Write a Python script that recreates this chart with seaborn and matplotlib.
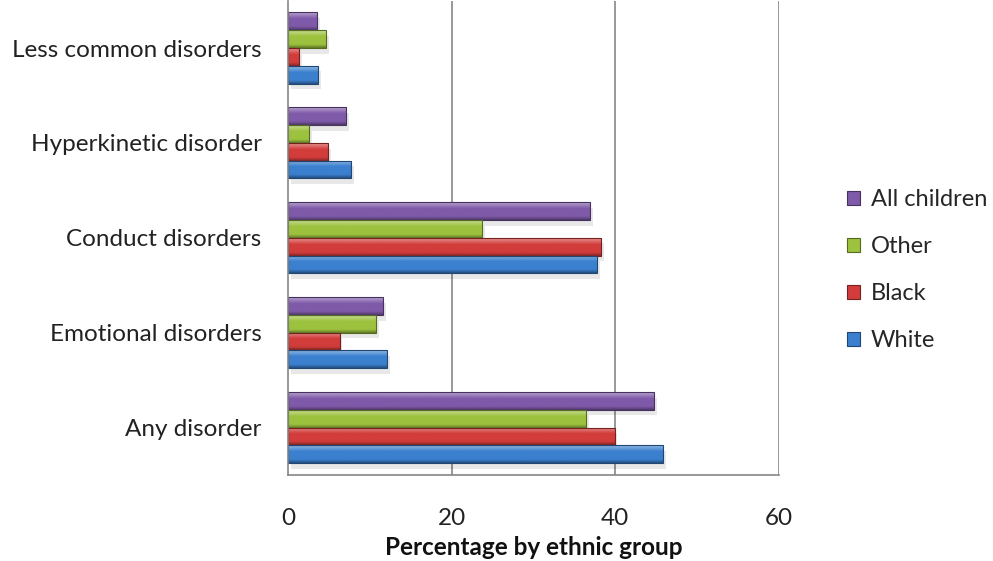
import numpy as np
import pandas as pd
import matplotlib
matplotlib.use("Agg")
import matplotlib.pyplot as plt
import matplotlib.colors as mcolors
from matplotlib.patches import Patch
import seaborn as sns

categories = ["Less common disorders", "Hyperkinetic disorder", "Conduct disorders",
              "Emotional disorders", "Any disorder"]
groups = ["All children", "Other", "Black", "White"]

all_children = [3.5, 7.1, 36.9, 11.6, 44.7]
other = [4.6, 2.6, 23.7, 10.8, 36.4]
black = [1.3, 4.9, 38.3, 6.3, 39.9]
white = [3.7, 7.7, 37.8, 12.1, 45.8]

x_ticks = [0, 20, 40, 60]
x_label = "Percentage by ethnic group"

palette = {"All children": "#7f5aa9", "Other": "#9cc23e",
           "Black": "#d23d3b", "White": "#3b80cf"}

df = pd.DataFrame({
    "category": categories * 4,
    "group": sum([[g] * len(categories) for g in groups], []),
    "value": all_children + other + black + white,
})

sns.set_style("white")
plt.rcParams["font.family"] = ["Lato", "DejaVu Sans"]

fig = plt.figure(figsize=(9.93, 5.61), dpi=100)
ax = fig.add_axes([288 / 993, 1 - 475 / 561, (779 - 288) / 993, 475 / 561 - 0.001])

sns.barplot(data=df, y="category", x="value", hue="group", order=categories,
            hue_order=groups, palette=palette, orient="h", width=0.75,
            saturation=1, ax=ax, legend=False, zorder=3)

# Bevelled look: soft shadow plus a vertical light-to-dark gradient on every bar
for patch in list(ax.patches):
    x0, y0 = patch.get_x(), patch.get_y()
    w, h = patch.get_width(), patch.get_height()
    base = np.array(mcolors.to_rgb(patch.get_facecolor()))
    light = base + (1 - base) * 0.45
    dark = base * 0.62
    stops = np.linspace(0, 1, 64)
    col = np.empty((64, 1, 3))
    for i, t in enumerate(stops):
        if t < 0.35:
            c = light + (base - light) * (t / 0.35)
        elif t < 0.8:
            c = base
        else:
            c = base + (dark - base) * ((t - 0.8) / 0.2)
        col[i, 0] = c
    shadow = plt.Rectangle((x0 + 0.35, y0 + 0.06), w, h, facecolor="#000000",
                           alpha=0.09, edgecolor="none", zorder=2)
    ax.add_patch(shadow)
    im = ax.imshow(col, extent=(x0, x0 + w, y0 + h, y0), aspect="auto",
                   interpolation="bilinear", zorder=3.5)
    im.set_clip_path(patch)
    patch.set_edgecolor(tuple(base * 0.55))
    patch.set_linewidth(0.8)
    patch.set_zorder(4)
    patch.set_facecolor("none")

ax.set_xlim(0, 60)
ax.set_ylim(len(categories) - 0.5, -0.5)
ax.set_xticks(x_ticks)
ax.set_xticklabels([str(t) for t in x_ticks], fontsize=17.5)
ax.set_yticks(range(len(categories)))
ax.set_yticklabels(categories, fontsize=17.5)
ax.set_yticks(np.arange(0.5, len(categories), 1.0), minor=True)
ax.tick_params(axis="y", which="major", length=0, pad=19, colors="#222222")
ax.tick_params(axis="y", which="minor", length=10, width=1.2, color="#868686")
ax.tick_params(axis="x", which="major", length=10, width=1.2, color="#868686",
               pad=14, colors="#222222")
ax.set_xlabel(x_label, fontsize=17.5, fontweight="bold", labelpad=5, color="#111111")
ax.set_ylabel("")

ax.grid(False)
for t in x_ticks[1:]:
    ax.axvline(t, color="#868686", linewidth=1.2, zorder=1)

for side in ["top", "right"]:
    ax.spines[side].set_visible(False)
for side in ["left", "bottom"]:
    ax.spines[side].set_color("#868686")
    ax.spines[side].set_linewidth(1.2)
    ax.spines[side].set_zorder(5)

handles = [Patch(facecolor=palette[g], edgecolor=tuple(np.array(mcolors.to_rgb(palette[g])) * 0.55),
                 linewidth=0.8, label=g) for g in groups]
fig.legend(handles=handles, loc="upper left", bbox_to_anchor=(838 / 993, 1 - 180 / 561),
           frameon=False, fontsize=17, handlelength=0.55, handleheight=0.55,
           handletextpad=0.45, labelspacing=1.1, borderaxespad=0)

fig.savefig("out.png", dpi=100)
